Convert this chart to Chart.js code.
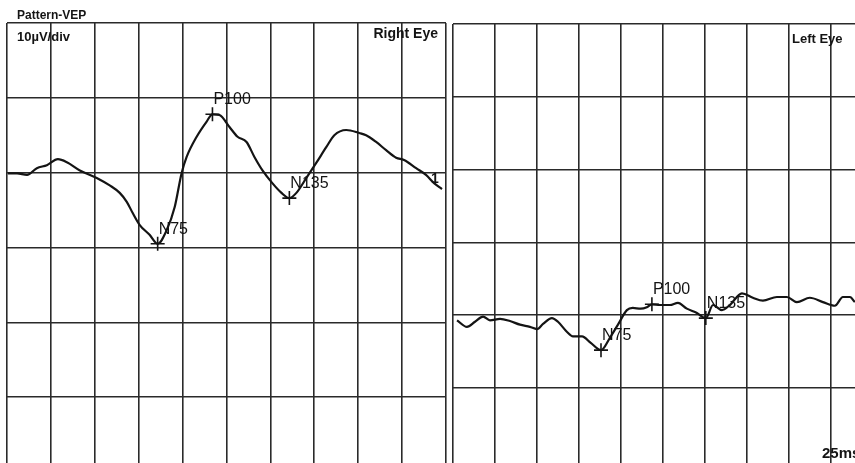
<!DOCTYPE html>
<html>
<head>
<meta charset="utf-8">
<title>Pattern-VEP</title>
<script src="https://cdn.jsdelivr.net/npm/chart.js@4.4.1/dist/chart.umd.min.js"></script>
<style>
  html, body { margin: 0; padding: 0; background: #fff; }
  body { width: 855px; height: 463px; position: relative; overflow: hidden; }
  canvas { position: absolute; top: 0; }
  #right-eye { left: 0; }
  #left-eye { left: 449px; }
</style>
</head>
<body>
<canvas id="right-eye" width="449" height="463"></canvas>
<canvas id="left-eye" width="406" height="463"></canvas>
<script>
// Pattern VEP traces: time in ms (25 ms/div), amplitude in µV (10 µV/div)

// Right eye trace
const rightEyeTimes = [0.5, 5.7, 11.4, 17.0, 22.7, 29.0, 34.1, 41.5, 51.1, 58.5, 64.2, 68.2,
  71.6, 75.6, 81.2, 85.8, 90.9, 95.5, 99.4, 102.3, 108.0, 113.6, 117.0, 121.0, 126.7, 131.3,
  136.4, 140.9, 145.5, 151.1, 156.3, 160.8, 164.8, 170.5, 176.1, 181.8, 186.4, 193.2, 200.6,
  204.5, 210.2, 215.9, 221.6, 226.1, 233.0, 238.6, 243.2, 247.7];
const rightEyeAmps = [9.9, 9.9, 9.7, 10.6, 11.0, 11.8, 11.4, 10.3, 9.3, 8.3, 7.3, 6.1,
  4.6, 3.0, 1.7, 0.5, 2.3, 5.4, 9.9, 12.1, 14.8, 16.8, 17.8, 17.7, 16.1, 14.8,
  14.1, 12.1, 10.3, 8.6, 7.3, 6.6, 7.3, 9.3, 11.3, 13.4, 15.0, 15.7, 15.3,
  15.0, 14.1, 13.0, 12.0, 11.7, 10.6, 9.7, 8.6, 7.8];

// Left eye trace
const leftEyeTimes = [2.4, 8.3, 13.1, 17.9, 22.0, 28.0, 33.9, 39.9, 45.8, 50.0, 53.6, 58.9,
  62.5, 67.9, 71.4, 76.8, 82.0, 88.1, 93.4, 98.2, 103.5, 107.0, 111.7, 115.4, 118.4, 123.2,
  129.1, 133.9, 139.2, 145.2, 150.5, 154.8, 160.1, 164.8, 172.0, 178.5, 184.5, 192.8, 198.8,
  204.7, 212.4, 220.2, 227.3, 232.1, 236.3, 239.2];
const leftEyeAmps = [-10.7, -11.6, -10.9, -10.2, -10.7, -10.5, -10.8, -11.3, -11.6, -11.9, -11.2, -10.4,
  -10.9, -12.3, -12.9, -12.9, -13.8, -14.8, -13.1, -11.3, -9.3, -9.0, -9.1, -8.9, -8.5, -8.6,
  -8.6, -8.3, -9.1, -9.7, -10.4, -8.6, -9.3, -8.6, -7.0, -7.6, -8.0, -7.5, -7.5,
  -8.2, -7.6, -8.2, -8.7, -7.5, -7.5, -8.2];

// Marked components
const peakNames = ['N75', 'P100', 'N135'];
const rightEyePeakTimes = [85.8, 117.0, 160.8];
const rightEyePeakAmps = [0.5, 17.8, 6.6];
const leftEyePeakTimes = [88.1, 118.4, 150.5];
const leftEyePeakAmps = [-14.8, -8.5, -10.4];

const FONT = '"Liberation Sans", Arial, Helvetica, sans-serif';
const INK = '#141414';
const GRID = '#2a2a2a';

const toPoints = (xs, ys) => xs.map((x, i) => ({ x, y: ys[i] }));

// Headings, peak names and trace number drawn onto each panel
const panelText = {
  id: 'panelText',
  afterDatasetsDraw(chart, args, opts) {
    const ctx = chart.ctx;
    ctx.save();
    ctx.fillStyle = INK;
    ctx.textBaseline = 'alphabetic';
    (opts.items || []).forEach(t => {
      ctx.font = t.font;
      ctx.textAlign = t.align || 'left';
      ctx.fillText(t.text, t.x, t.y);
    });
    ctx.font = '16px ' + FONT;
    ctx.textAlign = 'left';
    chart.getDatasetMeta(1).data.forEach((pt, i) => {
      ctx.fillText(peakNames[i], pt.x + 1, pt.y - 10);
    });
    if (opts.traceTag) {
      const line = chart.getDatasetMeta(0).data;
      const last = line[line.length - 1];
      ctx.font = 'bold 14px ' + FONT;
      ctx.fillText(opts.traceTag, last.x - 11, last.y - 6);
    }
    ctx.restore();
  }
};

function panelScales(xMax, yMin, yMax) {
  return {
    x: {
      type: 'linear', min: 0, max: xMax,
      afterBuildTicks: s => {
        const t = [];
        for (let v = 0; v <= xMax + 1e-6; v += 25) t.push({ value: v });
        s.ticks = t;
      },
      afterFit: s => { s.height = 0; },
      ticks: { display: false },
      grid: { color: GRID, lineWidth: 1.6, drawTicks: false },
      border: { display: false }
    },
    y: {
      type: 'linear', min: yMin, max: yMax,
      afterBuildTicks: s => {
        const t = [];
        for (let v = yMax; v >= yMin + 5; v -= 10) t.push({ value: v });
        s.ticks = t;
      },
      afterFit: s => { s.width = 0; },
      ticks: { display: false },
      grid: { color: GRID, lineWidth: 1.6, drawTicks: false },
      border: { display: false }
    }
  };
}

function makePanel(id, trace, peaks, xMax, yMin, padding, text) {
  return new Chart(document.getElementById(id), {
    type: 'line',
    data: {
      datasets: [
        {
          data: trace,
          borderColor: INK,
          borderWidth: 2.2,
          pointRadius: 0,
          cubicInterpolationMode: 'monotone',
          fill: false
        },
        {
          data: peaks,
          showLine: false,
          pointStyle: 'cross',
          pointRadius: 7,
          pointBorderWidth: 1.6,
          pointBorderColor: INK,
          borderColor: INK
        }
      ]
    },
    options: {
      responsive: false,
      animation: false,
      devicePixelRatio: 1,
      layout: { padding, autoPadding: false },
      scales: panelScales(xMax, yMin, 30),
      plugins: {
        legend: { display: false },
        tooltip: { enabled: false },
        panelText: text
      }
    },
    plugins: [panelText]
  });
}

makePanel('right-eye',
  toPoints(rightEyeTimes, rightEyeAmps),
  toPoints(rightEyePeakTimes, rightEyePeakAmps),
  250, -28.8,
  { left: 7, right: 3, top: 23, bottom: 0 },
  {
    traceTag: '1',
    items: [
      { text: 'Pattern-VEP', x: 17, y: 19, font: 'bold 12px ' + FONT },
      { text: '10µV/div', x: 17, y: 41, font: 'bold 13px ' + FONT },
      { text: 'Right Eye', x: 438, y: 38, font: 'bold 14px ' + FONT, align: 'right' }
    ]
  });

makePanel('left-eye',
  toPoints(leftEyeTimes, leftEyeAmps),
  toPoints(leftEyePeakTimes, leftEyePeakAmps),
  239.3, -30.3,
  { left: 4, right: 0, top: 24, bottom: 0 },
  {
    items: [
      { text: 'Left Eye', x: 343, y: 43, font: 'bold 13px ' + FONT },
      { text: '25ms', x: 373, y: 458, font: 'bold 15px ' + FONT }
    ]
  });
</script>
</body>
</html>
